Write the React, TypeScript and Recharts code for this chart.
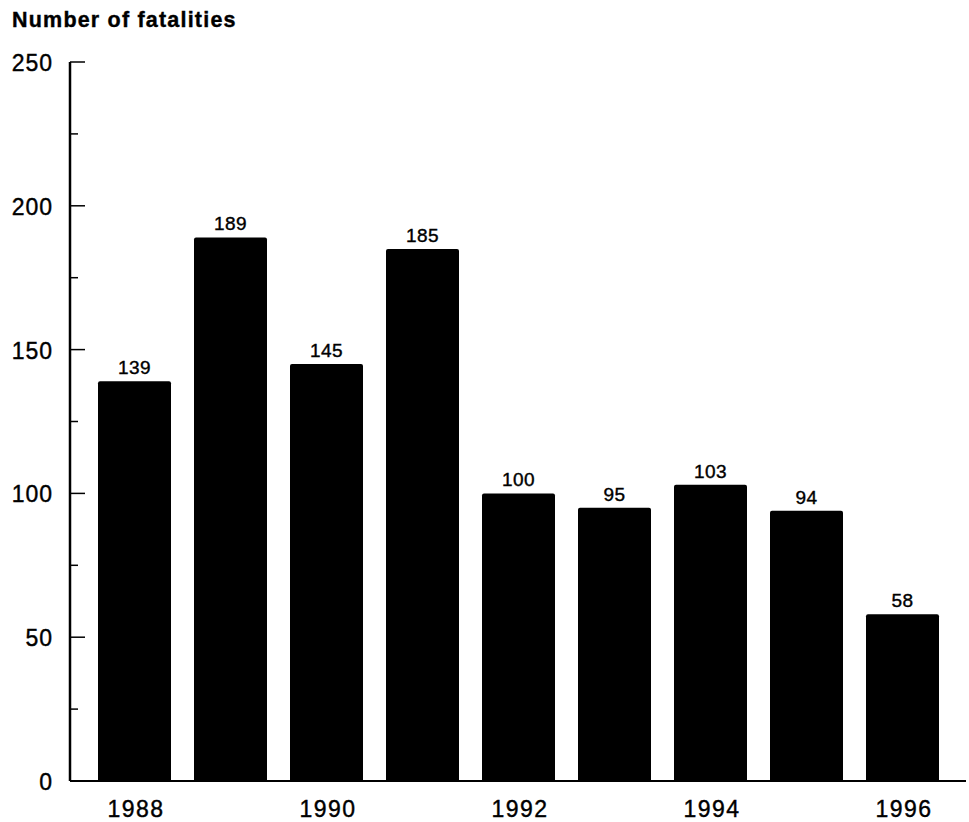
import React from 'react';
import { BarChart, Bar, XAxis, YAxis, LabelList } from 'recharts';

const years = ['1988', '1989', '1990', '1991', '1992', '1993', '1994', '1995', '1996'];
const fatalities = [139, 189, 145, 185, 100, 95, 103, 94, 58];
const yTicks = [0, 25, 50, 75, 100, 125, 150, 175, 200, 225, 250];
const xLabelYears = ['1988', '1990', '1992', '1994', '1996'];

const data = years.map((y, i) => ({ year: y, value: fatalities[i] }));

const FONT = '"Liberation Sans", Arial, Helvetica, sans-serif';

const YTick = (props: any) => {
  const { x, y, payload } = props;
  const v = payload.value as number;
  const major = v % 50 === 0;
  return (
    <g>
      <line x1={x} x2={x + (major ? 15 : 8)} y1={y} y2={y} stroke="#000" strokeWidth={1.5} />
      {major && (
        <text
          x={x - 17}
          y={y + 9}
          textAnchor="end"
          fontSize={23}
          fontFamily={FONT}
          fill="#000"
          stroke="#000"
          strokeWidth={0.4}
          letterSpacing={1}
        >
          {v}
        </text>
      )}
    </g>
  );
};

const XTick = (props: any) => {
  const { x, y, payload } = props;
  if (!xLabelYears.includes(payload.value)) return <g />;
  return (
    <text
      x={x + 2}
      y={y + 36}
      textAnchor="middle"
      fontSize={23}
      fontFamily={FONT}
      fill="#000"
      stroke="#000"
      strokeWidth={0.4}
      letterSpacing={1.5}
    >
      {payload.value}
    </text>
  );
};

const ValueLabel = (props: any) => {
  const { x, y, width, value } = props;
  return (
    <text
      x={x + width / 2}
      y={y - 7}
      textAnchor="middle"
      fontSize={19}
      fontFamily={FONT}
      fill="#000"
      stroke="#000"
      strokeWidth={0.4}
      letterSpacing={0.5}
    >
      {value}
    </text>
  );
};

export default function App() {
  return (
    <div style={{ position: 'absolute', left: 0, top: 0, width: 969, height: 822, background: '#fff' }}>
      <div
        style={{
          position: 'absolute',
          left: 12,
          top: 8,
          fontFamily: FONT,
          fontWeight: 'bold',
          fontSize: 21.5,
          letterSpacing: 1.2,
          lineHeight: '24px',
          color: '#000',
          WebkitTextStroke: '0.4px #000',
          whiteSpace: 'nowrap',
        }}
      >
        Number of fatalities
      </div>
      <BarChart width={969} height={822} data={data} margin={{ top: 62, right: 3, bottom: 0, left: 0 }}>
        <XAxis
          dataKey="year"
          height={41}
          interval={0}
          padding={{ left: 16, right: 16 }}
          tickLine={false}
          tickSize={0}
          tickMargin={0}
          axisLine={{ stroke: '#000', strokeWidth: 2 }}
          tick={<XTick />}
        />
        <YAxis
          width={70}
          domain={[0, 250]}
          ticks={yTicks}
          interval={0}
          tickLine={false}
          tickSize={0}
          tickMargin={0}
          axisLine={{ stroke: '#000', strokeWidth: 2.5 }}
          tick={<YTick />}
        />
        <Bar dataKey="value" fill="#000" barSize={73} radius={[2, 2, 0, 0]} isAnimationActive={false}>
          <LabelList dataKey="value" content={<ValueLabel />} />
        </Bar>
      </BarChart>
    </div>
  );
}
